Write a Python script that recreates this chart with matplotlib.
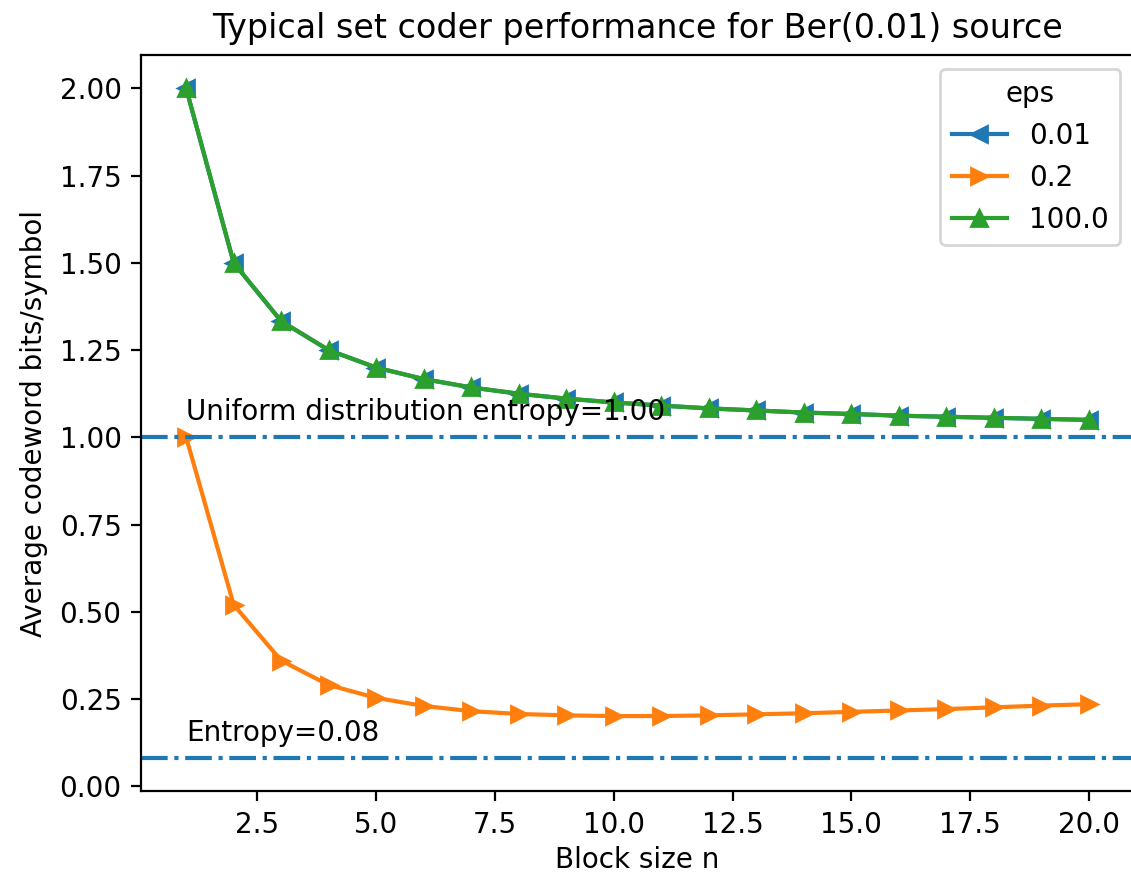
import matplotlib
matplotlib.use("Agg")
import matplotlib.pyplot as plt

# Block sizes
block_sizes = list(range(1, 21))

# Average codeword bits/symbol per eps
eps_labels = ["0.01", "0.2", "100.0"]

rate_eps_001 = [2.0, 1.5, 1.333, 1.25, 1.2, 1.167, 1.143, 1.125, 1.111, 1.1,
                1.091, 1.083, 1.077, 1.071, 1.067, 1.062, 1.059, 1.056, 1.053, 1.05]
rate_eps_02 = [1.0, 0.52, 0.36, 0.29, 0.253, 0.23, 0.215, 0.207, 0.203, 0.201,
               0.201, 0.203, 0.206, 0.209, 0.213, 0.217, 0.221, 0.226, 0.231, 0.235]
rate_eps_100 = [2.0, 1.5, 1.333, 1.25, 1.2, 1.167, 1.143, 1.125, 1.111, 1.1,
                1.091, 1.083, 1.077, 1.071, 1.067, 1.062, 1.059, 1.056, 1.053, 1.05]

markers = ["<", ">", "^"]

uniform_entropy = 1.0
source_entropy = 0.0808

DPI = 200
fig = plt.figure(figsize=(1131 / DPI, 876 / DPI), dpi=DPI)
ax = fig.add_axes([0.1247, 0.0965, 0.878, 0.8407])

for label, rates, marker in zip(eps_labels,
                                [rate_eps_001, rate_eps_02, rate_eps_100],
                                markers):
    ax.plot(block_sizes, rates, marker=marker, label=label)

# Reference entropy lines
ax.axhline(uniform_entropy, linestyle="-.")
ax.text(1, uniform_entropy + 0.05,
        "Uniform distribution entropy=%.2f" % uniform_entropy)

ax.axhline(source_entropy, linestyle="-.")
ax.text(1, source_entropy + 0.05, "Entropy=%.2f" % source_entropy)

ax.set_title("Typical set coder performance for Ber(0.01) source")
ax.set_xlabel("Block size n", labelpad=2.5)
ax.set_ylabel("Average codeword bits/symbol")
ax.legend(title="eps", loc="upper right")

fig.savefig("out.png", dpi=DPI)
